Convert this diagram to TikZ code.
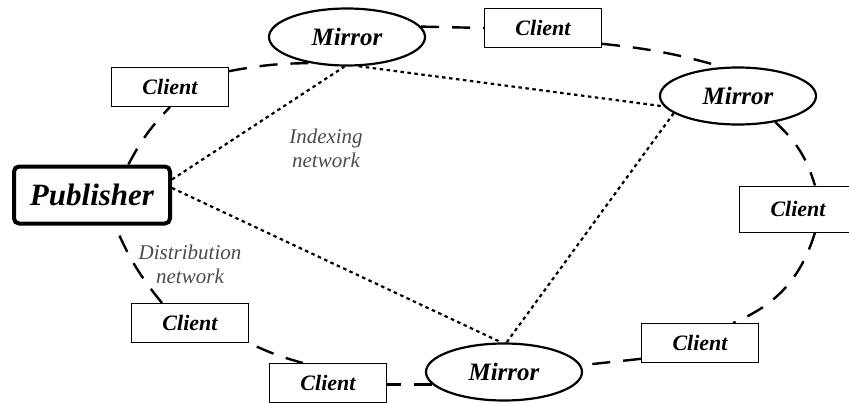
\documentclass[tikz,border=0pt]{standalone}
\usepackage{fontspec}
\setmainfont{Liberation Serif}
\usetikzlibrary{shapes.geometric}
\tikzset{
  mirror/.style={ellipse,draw,line width=2.2pt,minimum width=156pt,minimum height=57pt,
    font=\fontsize{25}{29}\selectfont\bfseries\itshape},
  client/.style={rectangle,draw,line width=1pt,minimum width=117pt,minimum height=39pt,
    font=\fontsize{22}{26}\selectfont\bfseries\itshape},
  publisher/.style={rectangle,draw,rounded corners=5pt,line width=4pt,minimum width=156pt,
    minimum height=57pt,font=\fontsize{31}{35}\selectfont\bfseries\itshape},
  idx/.style={line width=2.2pt,dash pattern=on 3.5pt off 3.5pt},
  dist/.style={line width=2.4pt,dash pattern=on 18pt off 13pt},
  netlabel/.style={align=center,text=black!70,font=\fontsize{21}{24}\selectfont\itshape}
}
\begin{document}
\begin{tikzpicture}[x=1pt,y=1pt]
  \useasboundingbox (0,0) rectangle (849,-402);
  % nodes
  \node[publisher] (pub)   at (92,-195)  {Publisher};
  \node[mirror]    (mirT)  at (347,-37)  {Mirror};
  \node[mirror]    (mirR)  at (738,-96)  {Mirror};
  \node[mirror]    (mirB)  at (504,-372) {Mirror};
  \node[client]    (cliTL) at (170,-87)  {Client};
  \node[client]    (cliTM) at (543,-28)  {Client};
  \node[client,minimum height=46pt] (cliR) at (798,-209) {Client};
  \node[client]    (cliBR) at (700,-343) {Client};
  \node[client]    (cliBM) at (328,-383) {Client};
  \node[client]    (cliBL) at (190,-323) {Client};
  \node[netlabel]  (idxlbl)  at (326,-148) {Indexing\\network};
  \node[netlabel]  (distlbl) at (190,-264) {Distribution\\network};
  % indexing network
  \draw[idx] (pub.11) -- (mirT.265);
  \draw[idx] (pub.5) -- (mirB.95);
  \draw[idx] (mirT.292) -- (mirR.188);
  \draw[idx] (mirR.195) -- (mirB.85);
  % distribution network
  \draw[dist] (pub.40) to[bend left=8] (cliTL.south);
  \draw[dist] (cliTL.15) to[bend left=5] (mirT.215);
  \draw[dist] (mirT.8) -- (cliTM.west);
  \draw[dist] (cliTM.-15) to[bend left=5] (mirR.118);
  \draw[dist] (mirR.-35) to[bend left=15] ([xshift=17pt]cliR.north);
  \draw[dist] ([xshift=17pt]cliR.south) to[bend left=25] ([xshift=33pt]cliBR.north);
  \draw[dist] (cliBR.195) -- (mirB.5);
  \draw[dist] (mirB.190) -- (mirB.190 -| cliBM.east);
  \draw[dist] ([xshift=-25pt]cliBM.north) to[bend left=5] (cliBL.south east);
  \draw[dist] ([xshift=-28pt]cliBL.north) to[bend left=8] ([xshift=23pt]pub.south);
\end{tikzpicture}
\end{document}
